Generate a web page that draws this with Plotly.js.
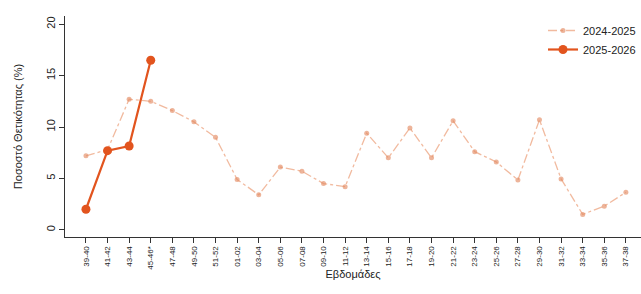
<!DOCTYPE html>
<html><head><meta charset="utf-8">
<script src="https://cdn.plot.ly/plotly-3.0.1.min.js"></script>
<style>body{margin:0;background:#fff}#c{width:641px;height:294px}</style>
</head><body><div id="c"></div>
<script>
const weeks = ["39-40","41-42","43-44","45-46*","47-48","49-50","51-52","01-02","03-04","05-06","07-08","09-10","11-12","13-14","15-16","17-18","19-20","21-22","23-24","25-26","27-28","29-30","31-32","33-34","35-36","37-38"];
const season2425 = [7.2,7.8,12.7,12.5,11.6,10.5,9.0,4.9,3.4,6.1,5.7,4.5,4.2,9.4,7.0,9.9,7.0,10.6,7.6,6.6,4.85,10.7,4.95,1.5,2.3,3.65];
const season2526 = [2.0,7.7,8.15,16.5];
const yTicks = [0,5,10,15,20];

const idx = weeks.map((_, i) => i);
const traces = [
  {x: idx, y: season2425, name: "2024-2025", mode: "lines+markers",
   line: {color: "rgba(232,140,95,0.6)", width: 1.3, dash: "dashdot"},
   marker: {color: "rgba(228,140,100,0.65)", size: 5}},
  {x: idx.slice(0, season2526.length), y: season2526, name: "2025-2026", mode: "lines+markers",
   line: {color: "#E2541E", width: 2.2},
   marker: {color: "#E2541E", size: 9}}
];
const layout = {
  width: 641, height: 294,
  margin: {l: 65, r: 0, t: 16, b: 57},
  paper_bgcolor: "#fff", plot_bgcolor: "#fff",
  font: {family: "Liberation Sans, Arial, sans-serif", color: "#222"},
  showlegend: true,
  legend: {x: 1, xanchor: "right", y: 1, yanchor: "top", font: {size: 11}, bgcolor: "rgba(0,0,0,0)", tracegroupgap: 0, itemwidth: 30},
  xaxis: {
    range: [-0.97, 25.7], tickmode: "array", tickvals: idx, ticktext: weeks,
    tickangle: -90, tickfont: {size: 8}, ticks: "outside", ticklen: 5, tickcolor: "#333",
    showline: true, linecolor: "#333", linewidth: 1, showgrid: false, zeroline: false,
    title: {text: "Εβδομάδες", font: {size: 11}, standoff: 1}
  },
  yaxis: {
    range: [-0.7, 20.8], tickmode: "array", tickvals: yTicks, ticktext: yTicks.map(String),
    tickangle: -90, tickfont: {size: 11}, ticks: "outside", ticklen: 5, tickcolor: "#333",
    showline: true, linecolor: "#333", linewidth: 1, showgrid: false, zeroline: false,
    title: {text: "Ποσοστό Θετικότητας (%)", font: {size: 11}, standoff: 19}
  }
};
Plotly.newPlot("c", traces, layout, {displayModeBar: false, staticPlot: true});
</script></body></html>
